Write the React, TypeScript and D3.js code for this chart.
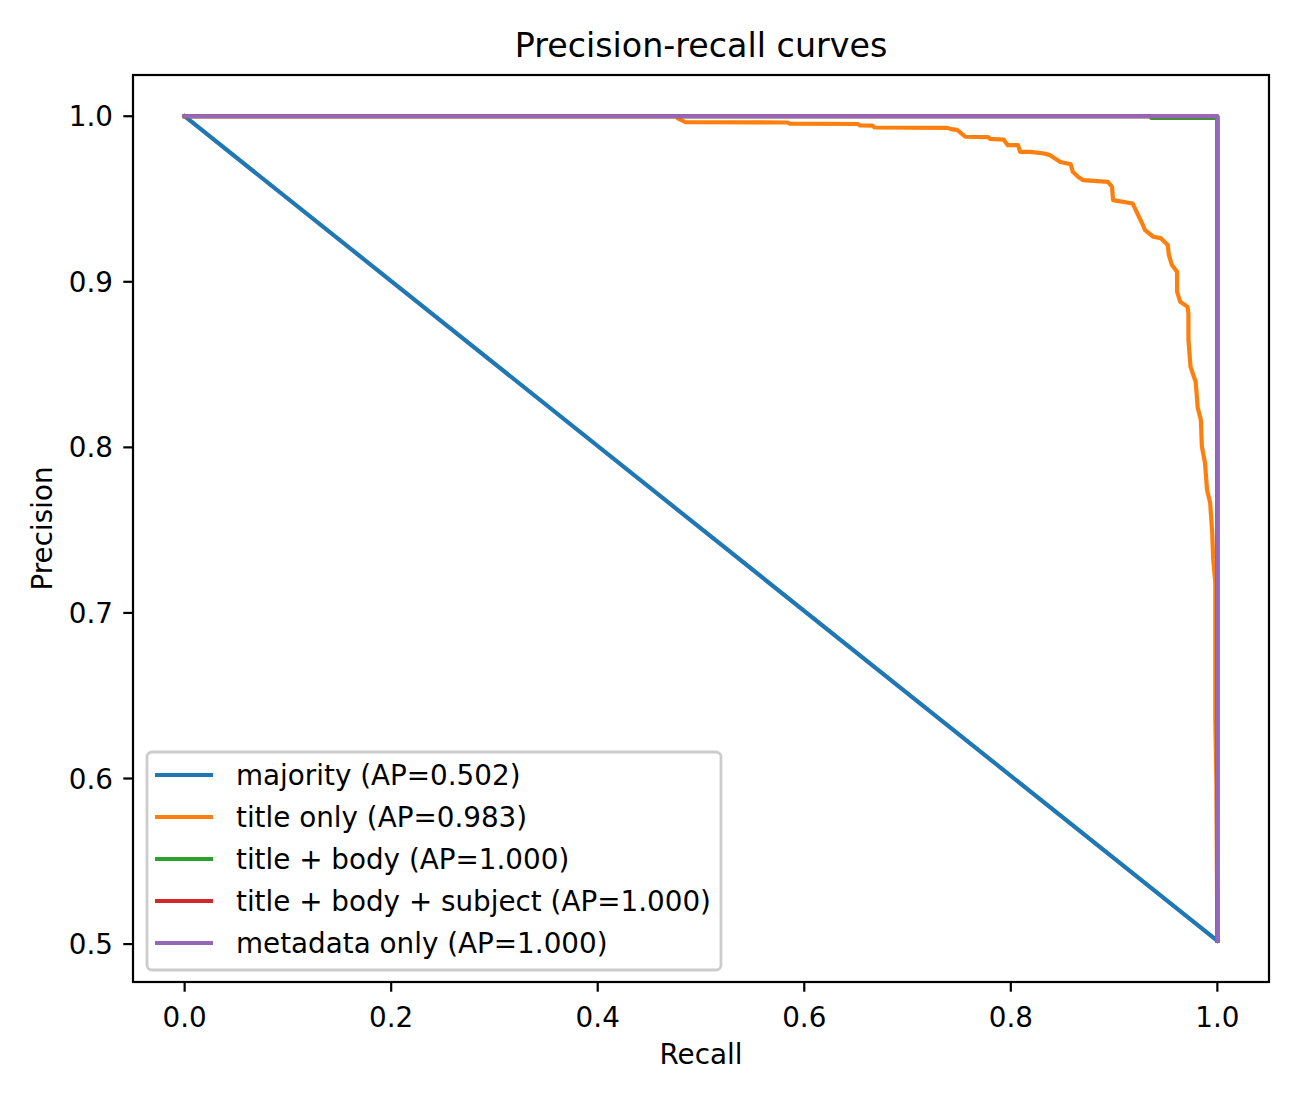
import React from "react";
import * as d3 from "d3";

// precision-recall points
const majorityCurve: [number, number][] = [
  [0.0, 1.0],
  [1.0, 0.502],
];

const titleOnlyCurve: [number, number][] = [
  [0.0, 1.0], [0.476, 1.0], [0.478, 0.9985], [0.485, 0.9964], [0.584, 0.9962],
  [0.586, 0.9955], [0.652, 0.9953], [0.654, 0.9944], [0.666, 0.9943], [0.668, 0.9932],
  [0.739, 0.993], [0.742, 0.9922], [0.748, 0.9918], [0.756, 0.9876], [0.778, 0.9874],
  [0.78, 0.9863], [0.793, 0.9859], [0.797, 0.9825], [0.807, 0.9825], [0.809, 0.9785],
  [0.819, 0.9785], [0.832, 0.9775], [0.838, 0.9765], [0.848, 0.9724], [0.858, 0.971],
  [0.86, 0.9664], [0.865, 0.9634], [0.87, 0.9614], [0.894, 0.9604], [0.898, 0.9574],
  [0.899, 0.9493], [0.918, 0.9473], [0.921, 0.9433], [0.927, 0.9355], [0.93, 0.9312],
  [0.938, 0.9272], [0.945, 0.9264], [0.952, 0.9222], [0.953, 0.9162], [0.956, 0.9101],
  [0.961, 0.9061], [0.961, 0.894], [0.964, 0.888], [0.971, 0.885], [0.972, 0.881],
  [0.972, 0.8649], [0.974, 0.8486], [0.979, 0.8396], [0.981, 0.8239], [0.984, 0.8166],
  [0.985, 0.8004], [0.988, 0.7907], [0.99, 0.7744], [0.993, 0.7666], [0.995, 0.7485],
  [0.996, 0.7322], [0.998, 0.7183], [0.998, 0.6357], [0.999, 0.6], [1.0, 0.502],
];

const titleBodyCurve: [number, number][] = [
  [0.0, 1.0], [0.935, 1.0], [0.936, 0.999], [1.0, 0.999], [1.0, 0.502],
];

const titleBodySubjectCurve: [number, number][] = [
  [0.0, 1.0], [1.0, 1.0], [1.0, 0.502],
];

const metadataCurve: [number, number][] = [
  [0.0, 1.0], [1.0, 1.0], [1.0, 0.502],
];

const seriesNames = [
  "majority (AP=0.502)",
  "title only (AP=0.983)",
  "title + body (AP=1.000)",
  "title + body + subject (AP=1.000)",
  "metadata only (AP=1.000)",
];
const seriesColors = ["#1f77b4", "#ff7f0e", "#2ca02c", "#d62728", "#9467bd"];
const seriesData = [majorityCurve, titleOnlyCurve, titleBodyCurve, titleBodySubjectCurve, metadataCurve];

const xTicks = [0.0, 0.2, 0.4, 0.6, 0.8, 1.0];
const yTicks = [0.5, 0.6, 0.7, 0.8, 0.9, 1.0];

const W = 1300;
const H = 1100;
const left = 133, right = 1269, top = 75, bottom = 982;
const font = "DejaVu Sans, sans-serif";
const fs = 27.8;

export default function App() {
  const x = d3.scaleLinear().domain([-0.05, 1.05]).range([left, right]);
  const y = d3.scaleLinear().domain([0.4771, 1.0249]).range([bottom, top]);
  const line = d3.line<[number, number]>().x(d => x(d[0])).y(d => y(d[1]));

  const legX = 147, legY = 752, legW = 574, legH = 218, rowH = 42;

  return (
    <svg width={W} height={H} style={{ position: "absolute", left: 0, top: 0, background: "#fff" }}
      fontFamily={font}>
      <rect x={0} y={0} width={W} height={H} fill="#fff" />
      <text x={(left + right) / 2} y={57} textAnchor="middle" fontSize={33.3}>Precision-recall curves</text>

      {seriesData.map((d, i) => (
        <path key={i} d={line(d) || ""} fill="none" stroke={seriesColors[i]} strokeWidth={4.2}
          strokeLinejoin="round" strokeLinecap="square" />
      ))}

      <rect x={left} y={top} width={right - left} height={bottom - top} fill="none" stroke="#000" strokeWidth={2.2} />

      {xTicks.map(t => (
        <g key={t}>
          <line x1={x(t)} x2={x(t)} y1={bottom} y2={bottom + 9.7} stroke="#000" strokeWidth={2.2} />
          <text x={x(t)} y={bottom + 45} textAnchor="middle" fontSize={fs}>{t.toFixed(1)}</text>
        </g>
      ))}
      {yTicks.map(t => (
        <g key={t}>
          <line x1={left - 9.7} x2={left} y1={y(t)} y2={y(t)} stroke="#000" strokeWidth={2.2} />
          <text x={left - 20} y={y(t) + 10} textAnchor="end" fontSize={fs}>{t.toFixed(1)}</text>
        </g>
      ))}

      <text x={(left + right) / 2} y={1064} textAnchor="middle" fontSize={fs}>Recall</text>
      <text transform={`translate(52,${(top + bottom) / 2}) rotate(-90)`} textAnchor="middle" fontSize={fs}>Precision</text>

      <rect x={legX} y={legY} width={legW} height={legH} rx={5} fill="#fff" fillOpacity={0.8}
        stroke="#cccccc" strokeWidth={2.8} />
      {seriesNames.map((n, i) => (
        <g key={n}>
          <line x1={155} x2={213} y1={775 + i * rowH} y2={775 + i * rowH} stroke={seriesColors[i]} strokeWidth={4.2} />
          <text x={236} y={775 + i * rowH + 10} fontSize={fs}>{n}</text>
        </g>
      ))}
    </svg>
  );
}
